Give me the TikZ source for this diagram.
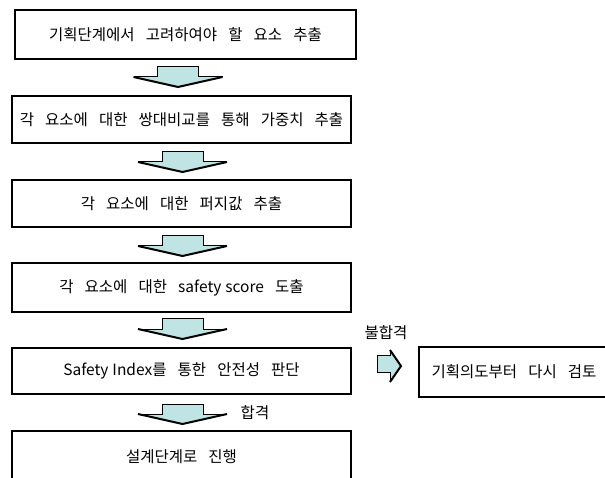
\documentclass[tikz,border=0pt]{standalone}
\usepackage{fontspec}
\setmainfont{Noto Sans CJK KR}[WordSpace=3.2]
\definecolor{arrowfill}{RGB}{192,228,228}
\begin{document}
\begin{tikzpicture}[x=1pt,y=-1pt,
  box/.style={draw=black, line width=1.3pt, fill=white, inner sep=0pt,
    font=\fontsize{15.5}{19}\selectfont},
  lbl/.style={inner sep=0pt, font=\fontsize{15.5}{19}\selectfont},
  pics/dnarrow/.style={code={
    \fill[arrowfill] (-20.5,0) -- (20.5,0) -- (20.5,10) -- (44.5,10) -- (0,20)
      -- (-44.5,10) -- (-20.5,10) -- cycle;
    \draw[line width=1pt, line join=miter] (-44.5,10) -- (-20.5,10) -- (-20.5,0)
      -- (20.5,0) -- (20.5,10) -- (44.5,10);
    \draw[line width=2pt, line join=miter] (-44.5,10) -- (0,20) -- (44.5,10);
  }},
  pics/rtarrow/.style={code={
    \fill[arrowfill] (0,5) -- (13,5) -- (13,0) -- (24,16) -- (13,32) -- (13,22)
      -- (0,22) -- cycle;
    \draw[line width=1pt, line join=miter] (13,32) -- (13,22) -- (0,22) -- (0,5)
      -- (13,5) -- (13,0);
    \draw[line width=2pt, line join=miter] (13,0) -- (24,16) -- (13,32);
  }},
]
\useasboundingbox (0,0) rectangle (605,478);

\node[box, minimum width=341pt, minimum height=49pt] (b1) at (185.5,34.5)
  {기획단계에서 고려하여야 할 요소 추출};
\node[box, minimum width=339pt, minimum height=47pt] (b2) at (181.5,119.5)
  {각 요소에 대한 쌍대비교를 통해 가중치 추출};
\node[box, minimum width=339pt, minimum height=47pt] (b3) at (181.5,203.5)
  {각 요소에 대한 퍼지값 추출};
\node[box, minimum width=339pt, minimum height=49pt] (b4) at (181.5,287.5)
  {각 요소에 대한 safety\hspace{4pt}score 도출};
\node[box, minimum width=339pt, minimum height=46pt] (b5) at (181.5,371)
  {Safety\hspace{4pt}Index를 통한 안전성 판단};
\node[box, minimum width=339pt, minimum height=51pt] (b6) at (181.5,456.5)
  {설계단계로 진행};
\node[box, minimum width=190pt, minimum height=50pt] (b7) at (514,372)
  {기획의도부터 다시 검토};

\pic at (178,67) {dnarrow};
\pic at (182.5,152) {dnarrow};
\pic at (182.5,236) {dnarrow};
\pic at (182.5,319) {dnarrow};
\pic at (182.5,404) {dnarrow};
\pic at (377,350) {rtarrow};

\node[lbl] (fail) at (386,333) {불합격};
\node[lbl] (pass) at (255,413) {합격};
\end{tikzpicture}
\end{document}
